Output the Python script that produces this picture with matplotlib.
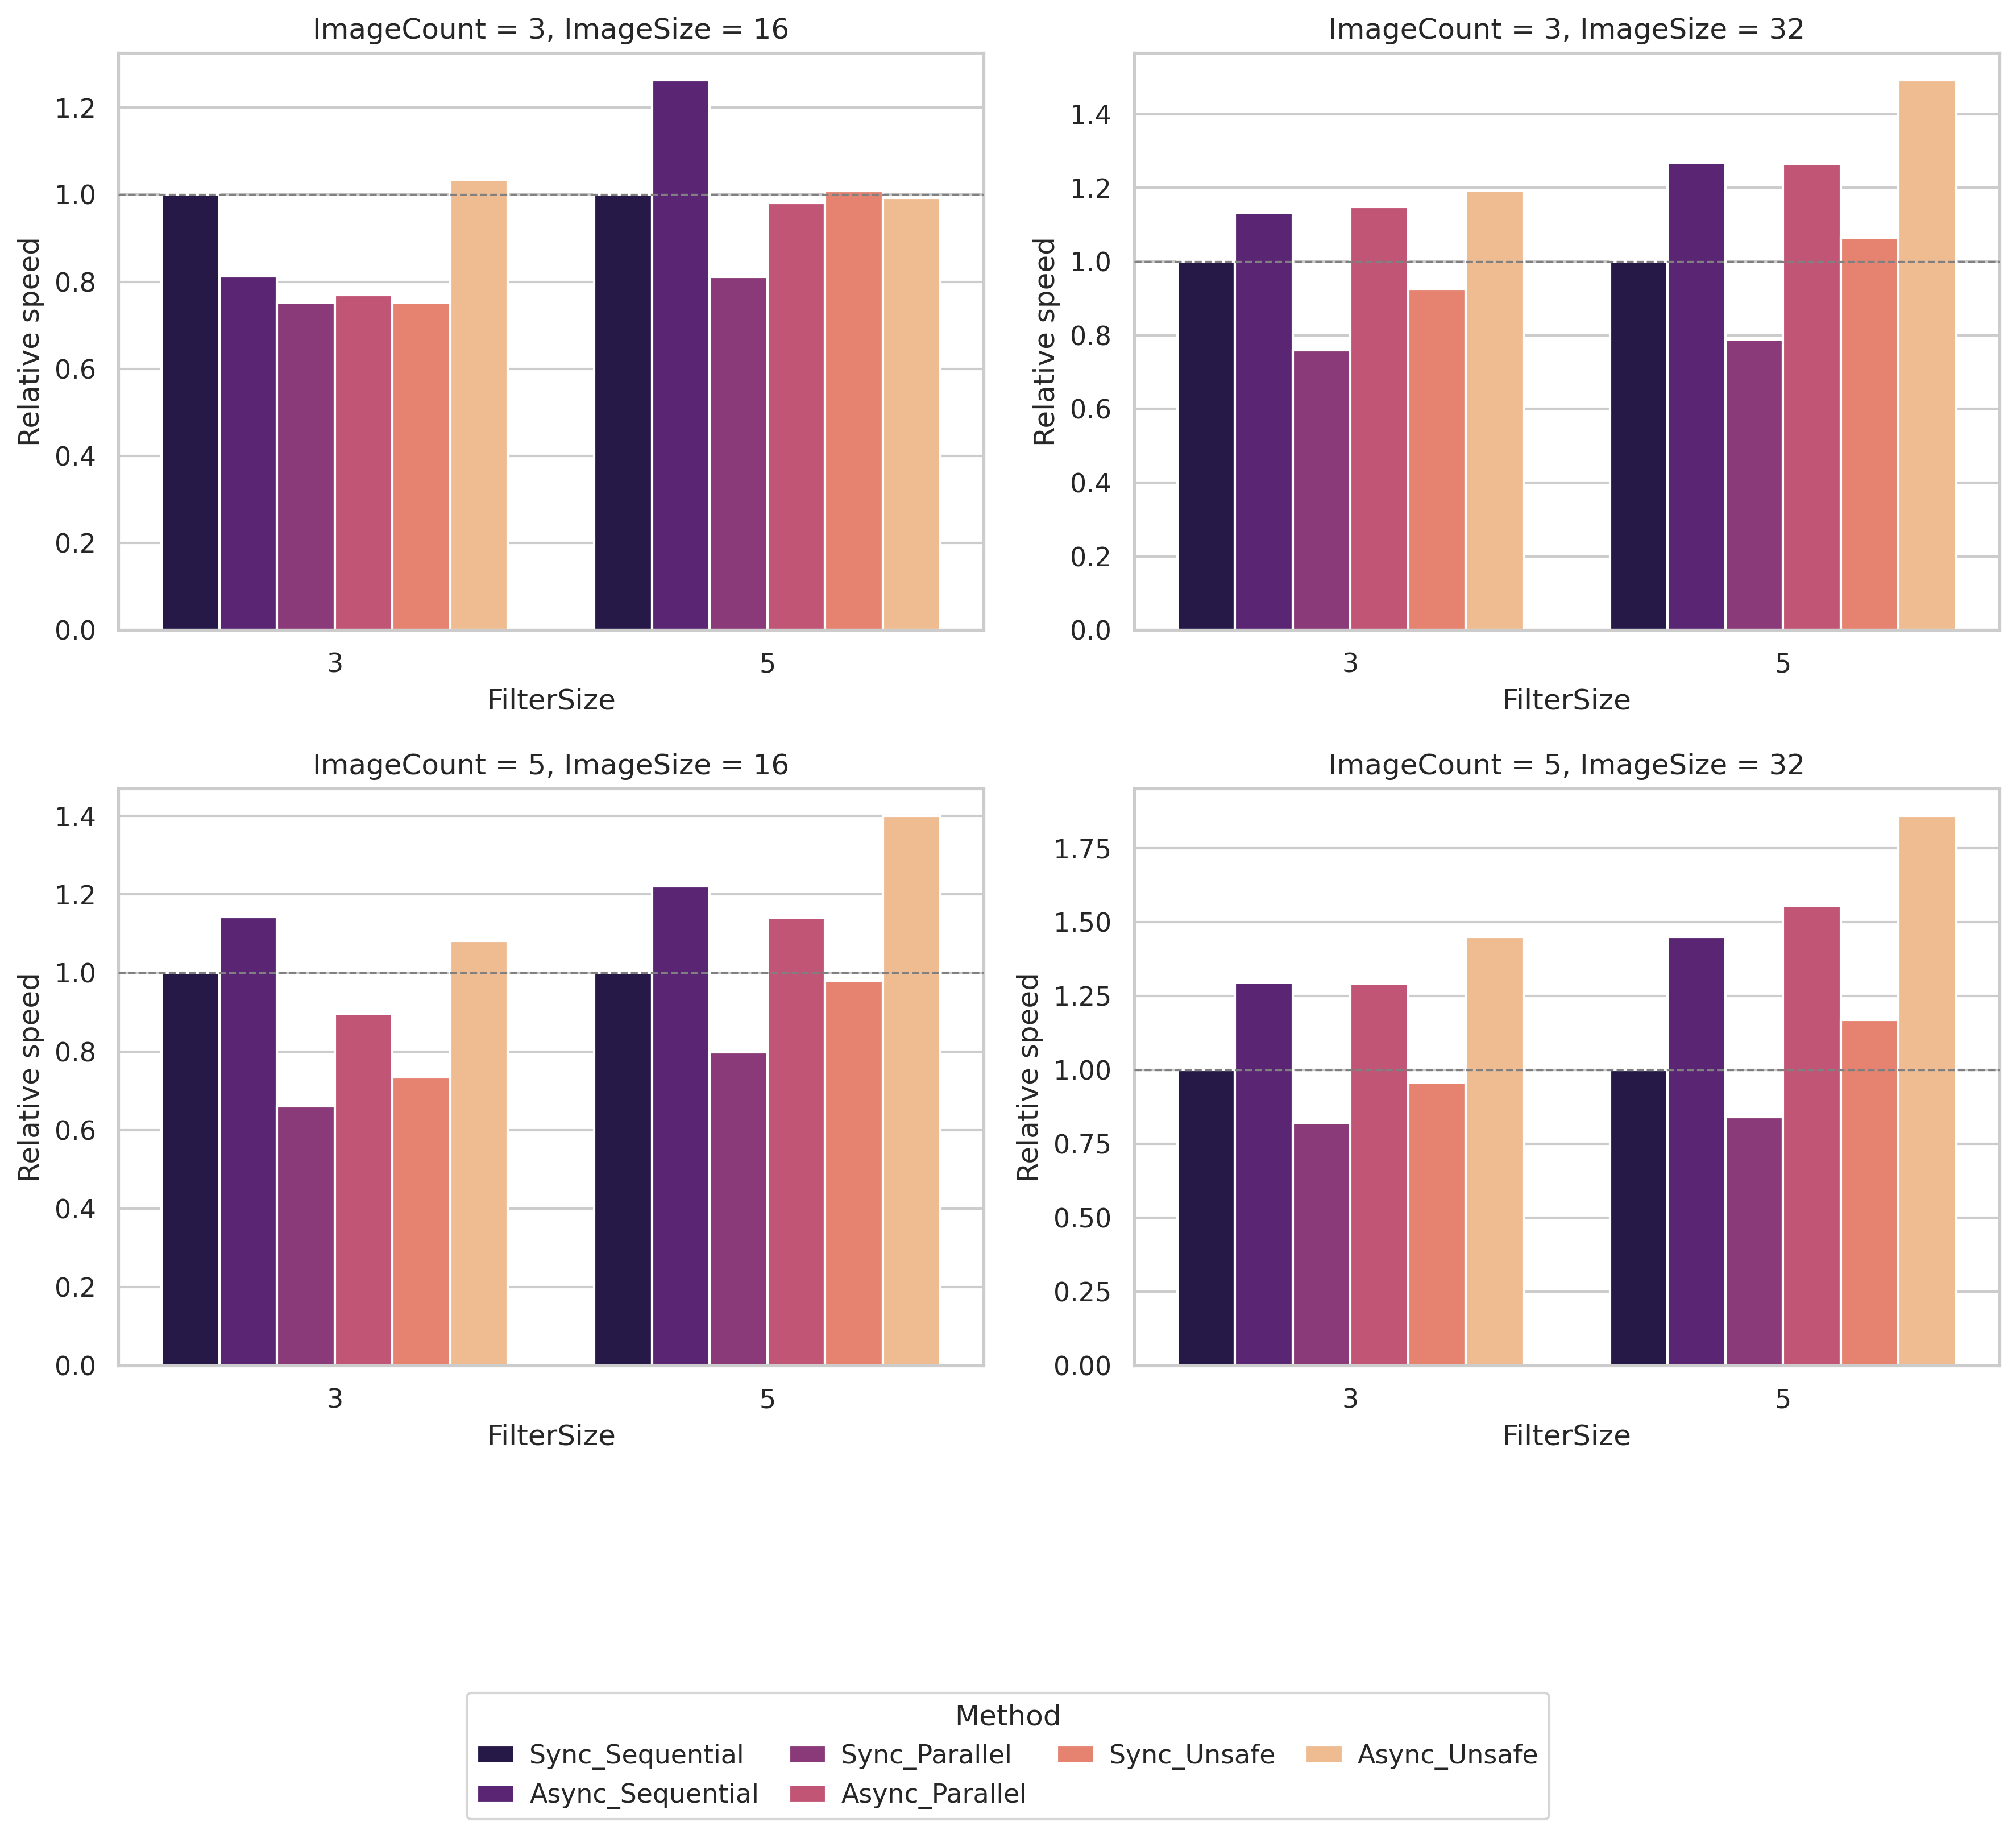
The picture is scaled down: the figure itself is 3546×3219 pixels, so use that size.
import numpy as np
import seaborn as sns
from matplotlib import pyplot as plt

methods = ["Sync_Sequential", "Async_Sequential", "Sync_Parallel",
           "Async_Parallel", "Sync_Unsafe", "Async_Unsafe"]
filter_sizes = ["3", "5"]
panels = [(3, 16), (3, 32), (5, 16), (5, 32)]

# relative speed per panel, rows = FilterSize 3 / 5, columns = methods
speed_3_16 = [[1.0, 0.813, 0.752, 0.769, 0.752, 1.034],
              [1.0, 1.263, 0.811, 0.981, 1.008, 0.993]]
speed_3_32 = [[1.0, 1.133, 0.760, 1.148, 0.926, 1.193],
              [1.0, 1.268, 0.789, 1.265, 1.065, 1.492]]
speed_5_16 = [[1.0, 1.143, 0.661, 0.897, 0.734, 1.082],
              [1.0, 1.221, 0.798, 1.141, 0.981, 1.400]]
speed_5_32 = [[1.0, 1.297, 0.821, 1.293, 0.957, 1.449],
              [1.0, 1.449, 0.841, 1.556, 1.169, 1.859]]
speeds = [speed_3_16, speed_3_32, speed_5_16, speed_5_32]

sns.set_theme(style="whitegrid")
colors = sns.color_palette("magma", len(methods), desat=0.75)

fig = plt.figure(figsize=(3546 / 300, 3219 / 300), dpi=300)
lefts = [0.0587, 0.5625]
bottoms = [0.6557, 0.2537]
w, h = 0.4293, 0.3155

x = np.arange(len(filter_sizes))
bw = 0.8 / len(methods)
for k, ((ic, isz), data) in enumerate(zip(panels, speeds)):
    ax = fig.add_axes([lefts[k % 2], bottoms[k // 2], w, h])
    data = np.array(data)
    for j, m in enumerate(methods):
        ax.bar(x - 0.4 + bw * (j + 0.5), data[:, j], width=bw, color=colors[j],
               edgecolor="white", linewidth=1.0, label=m, zorder=2)
    ax.axhline(1.0, color="gray", linestyle="--", linewidth=0.8, zorder=3)
    ax.set_xticks(x)
    ax.set_xticklabels(filter_sizes)
    ax.set_xlim(-0.5, 1.5)
    ax.grid(axis="x", visible=False)
    ax.set_axisbelow(True)
    ax.set_xlabel("FilterSize", fontsize=12)
    ax.set_ylabel("Relative speed", fontsize=12)
    ax.set_title(f"ImageCount = {ic}, ImageSize = {isz}", fontsize=12)
    ax.tick_params(labelsize=11)
    if k == 0:
        handles, labels = ax.get_legend_handles_labels()

fig.legend(handles, labels, title="Method", ncol=4, loc="upper center",
           bbox_to_anchor=(0.5, 0.082), fontsize=11, title_fontsize=12,
           handlelength=1.43, handletextpad=0.57, columnspacing=1.15)

fig.savefig("out.png", dpi=300)
